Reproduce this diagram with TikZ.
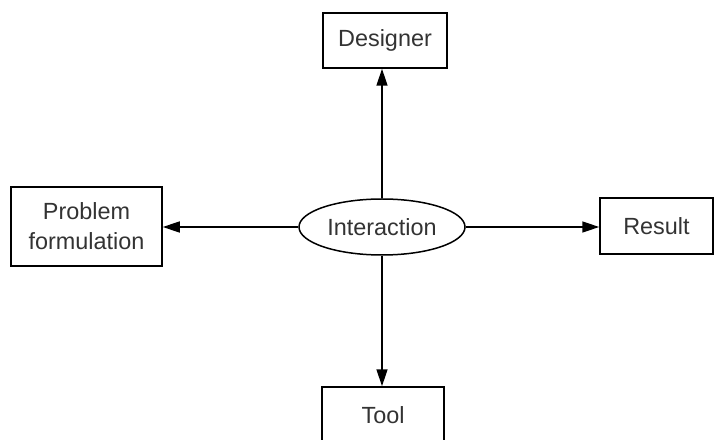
\documentclass[tikz,border=0pt]{standalone}
\usepackage{fontspec}
\setmainfont{Liberation Sans}
\usetikzlibrary{arrows.meta,shapes.geometric}
\begin{document}
\begin{tikzpicture}[x=1bp,y=-1bp,
  every node/.style={font=\fontsize{23.5}{30}\selectfont, text=black!80, inner sep=0pt},
  box/.style={draw, line width=1.5bp, align=center},
  oval/.style={draw, ellipse, line width=1.5bp, minimum width=166bp, minimum height=56bp},
  conn/.style={line width=1.5bp, -{Triangle[length=17bp,width=11bp]}}]
\useasboundingbox (0,0) rectangle (715,440);
\clip (0,0) rectangle (715,440);
\node[oval] (e) at (382,227) {Interaction};
\node[box, minimum width=124bp, minimum height=55bp] (d) at (385,40.5) {Designer};
\node[box, minimum width=151bp, minimum height=79bp] (p) at (86.5,226.5) {Problem\\formulation};
\node[box, minimum width=113bp, minimum height=56bp] (r) at (656.5,226) {Result};
\node[box, minimum width=122bp, minimum height=56bp] (t) at (383,415) {Tool};
\draw[conn] (e.north) -- (e.north |- d.south);
\draw[conn] (e.south) -- (e.south |- t.north);
\draw[conn] (e.west) -- (e.west -| p.east);
\draw[conn] (e.east) -- (e.east -| r.west);
\end{tikzpicture}
\end{document}
